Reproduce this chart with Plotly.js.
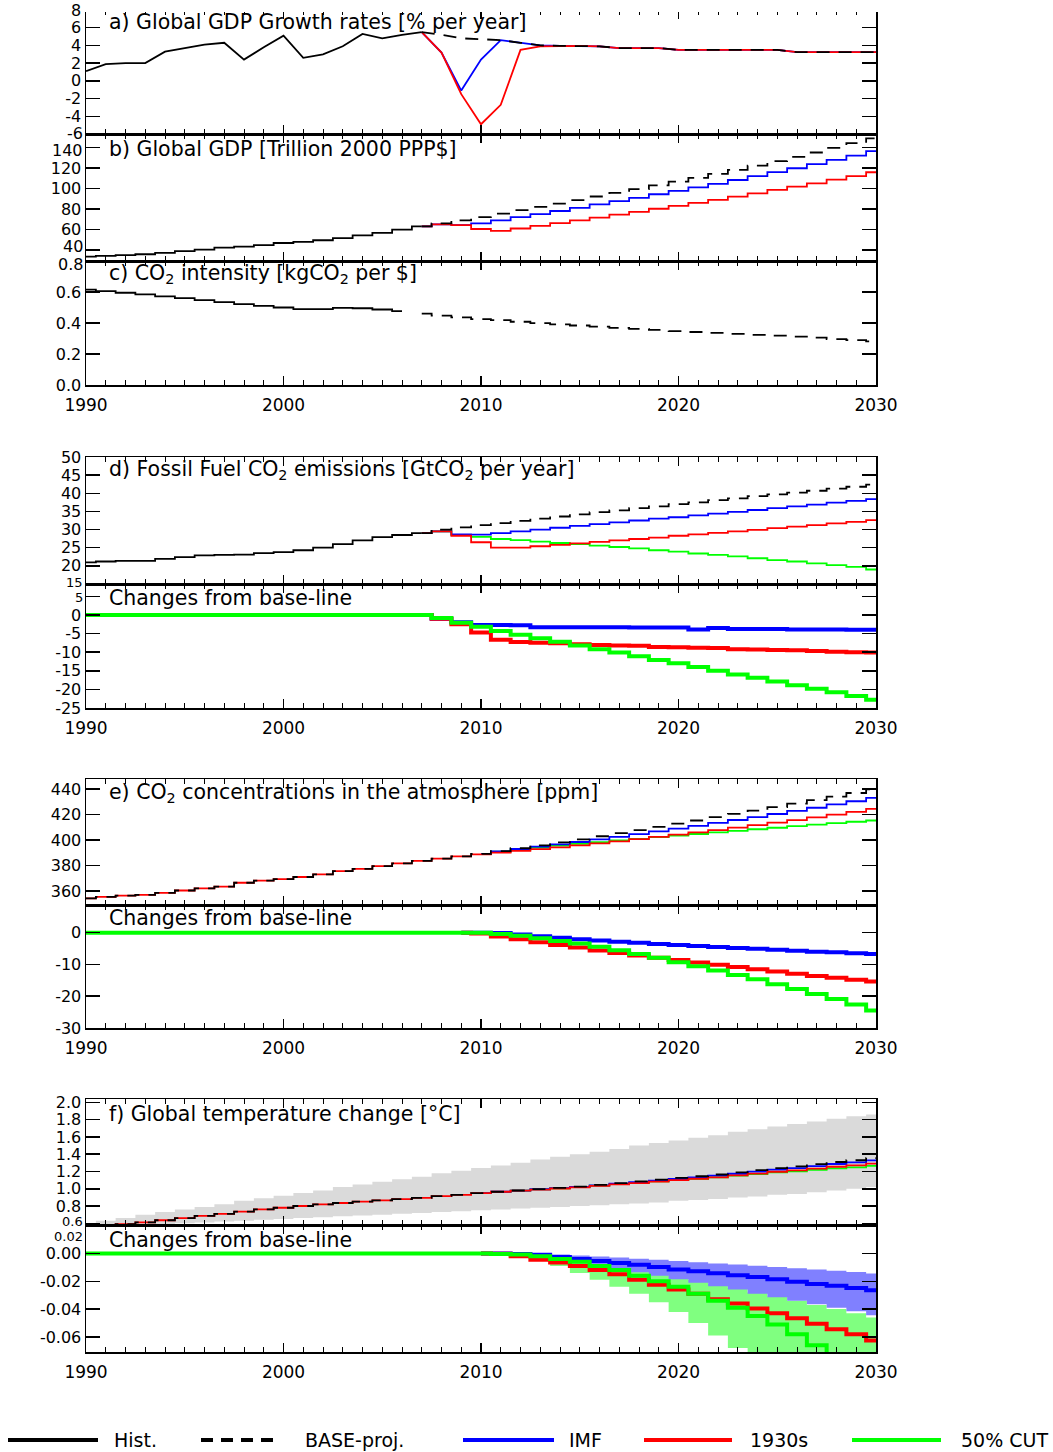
<!DOCTYPE html>
<html><head><meta charset="utf-8">
<script src="https://cdn.plot.ly/plotly-3.0.1.min.js"></script>
<style>html,body{margin:0;padding:0;background:#fff}#chart{width:1053px;height:1452px}</style>
</head><body><div id="chart"></div>
<script>
// ---------------- DATA ----------------
const YEARS = [1990,1991,1992,1993,1994,1995,1996,1997,1998,1999,2000,2001,2002,2003,2004,2005,2006,2007,2008,2009,2010,2011,2012,2013,2014,2015,2016,2017,2018,2019,2020,2021,2022,2023,2024,2025,2026,2027,2028,2029,2030];
const X_TICKS = [1990, 2000, 2010, 2020, 2030];
const X_LABELS = ['1990', '2000', '2010', '2020', '2030'];

// a) GDP growth rates [% per year]
const A_HIST = [1.1,1.9,2.0,2.0,3.3,3.7,4.1,4.3,2.4,3.8,5.1,2.6,3.0,3.9,5.3,4.8,5.2,5.5];              // 1990-2007
const A_BASE = [5.5,5.2,4.8,4.7,4.6,4.3,4.0,3.95,3.95,3.9,3.7,3.7,3.7,3.5,3.5,3.5,3.5,3.5,3.5,3.25,3.25,3.25,3.25,3.25]; // 2007-2030
const A_IMF  = [5.5,3.2,-1.1,2.4,4.6,4.3,4.0,3.95,3.95,3.9,3.7,3.7,3.7,3.5,3.5,3.5,3.5,3.5,3.5,3.25,3.25,3.25,3.25,3.25];
const A_1930 = [5.5,3.2,-1.5,-4.9,-2.7,3.5,3.9,3.95,3.95,3.9,3.7,3.7,3.7,3.5,3.5,3.5,3.5,3.5,3.5,3.25,3.25,3.25,3.25,3.25];

// b) Global GDP [Trillion 2000 PPP$]
const B_HIST = [33.5,34.2,35.0,35.8,37.2,38.8,40.4,42.2,43.3,44.8,46.8,48.0,49.5,51.5,54.2,56.8,59.8,63.0]; // 1990-2007
const B_BASE = [63.0,66.0,69.0,72.2,75.5,78.9,82.1,85.4,88.8,92.3,95.8,99.4,103.2,106.8,110.5,114.4,118.4,122.5,126.8,131.0,135.3,139.8,144.4,149.2]; // 2007-2030
const B_IMF  = [63.0,65.0,64.3,65.9,68.9,72.1,75.1,78.1,81.2,84.5,87.7,91.0,94.5,97.8,101.2,104.7,108.4,112.2,116.1,119.9,123.9,128.0,132.2,136.6];
const B_1930 = [63.0,65.0,64.2,60.5,58.7,61.0,63.5,66.2,68.9,71.7,74.5,77.3,80.3,83.1,86.0,89.0,92.1,95.3,98.7,101.9,105.2,108.7,112.3,116.0];

// c) CO2 intensity [kgCO2 per $]
const C_HIST = [0.615,0.605,0.595,0.585,0.572,0.56,0.548,0.535,0.522,0.51,0.50,0.49,0.49,0.497,0.495,0.487,0.477]; // 1990-2006
const C_BASE = [0.46,0.447,0.436,0.425,0.418,0.408,0.399,0.391,0.384,0.377,0.369,0.362,0.355,0.348,0.342,0.336,0.330,0.324,0.318,0.312,0.305,0.296,0.289,0.282]; // 2007-2030

// d) Fossil fuel CO2 emissions [GtCO2 per year]
const D_HIST = [20.95,21.2,21.4,21.4,21.9,22.4,22.9,23.0,23.1,23.5,23.8,24.3,25.0,26.0,27.0,27.9,28.5,29.0]; // 1990-2007
const D_BASE = [29.0,30.0,30.6,31.2,31.8,32.4,33.0,33.6,34.2,34.8,35.3,35.9,36.4,37.0,37.5,38.1,38.6,39.2,39.7,40.2,40.7,41.3,41.8,42.4]; // 2007-2030
const D_IMF  = [29.0,29.5,28.7,28.6,29.0,29.5,30.0,30.5,31.0,31.5,32.0,32.5,33.0,33.4,33.9,34.4,34.9,35.4,35.9,36.4,36.9,37.4,37.9,38.4];
const D_1930 = [29.0,29.5,28.3,26.5,25.0,25.0,25.4,25.8,26.2,26.6,27.0,27.4,27.8,28.3,28.7,29.1,29.5,29.9,30.4,30.8,31.2,31.7,32.1,32.6];
const D_CUT  = [29.0,29.5,28.5,28.0,27.4,27.1,26.7,26.3,26.0,25.6,25.2,24.8,24.3,23.9,23.4,23.0,22.6,22.1,21.6,21.2,20.7,20.2,19.7,19.0];
// d) changes from base-line
const D2_IMF  = [0,-1.0,-2.0,-2.7,-2.7,-2.8,-3.3,-3.3,-3.3,-3.3,-3.3,-3.4,-3.4,-3.4,-3.9,-3.5,-3.8,-3.8,-3.8,-3.9,-3.9,-3.9,-4.0,-4.0]; // 2007-2030
const D2_1930 = [0,-1.0,-2.5,-4.7,-6.7,-7.3,-7.5,-7.6,-7.9,-8.1,-8.2,-8.3,-8.6,-8.7,-8.8,-8.9,-9.2,-9.3,-9.4,-9.5,-9.7,-9.9,-10.0,-10.1];
const D2_CUT  = [0,0,0,0,0,0,0,0,0,0,0,0,0,0,0,0,0,0,-0.8,-2.1,-3.2,-4.3,-5.3,-6.3,-7.2,-8.2,-9.2,-10.1,-11.1,-12.1,-13.0,-14.0,-15.0,-16.0,-16.9,-17.9,-18.9,-19.8,-20.8,-21.8,-22.8]; // 1990-2030

// e) CO2 concentrations [ppm]
const E_BASE = [354.2,355.4,356.3,357.0,358.6,360.4,362.0,363.5,366.5,368.1,369.4,371.0,373.1,375.6,377.4,379.6,381.7,383.6,385.4,387.2,389.1,391.3,393.6,395.9,398.2,400.6,403.0,405.4,407.9,410.4,412.9,415.4,418.0,420.6,423.2,425.9,428.6,431.4,434.2,437.0,439.9]; // 1990-2030
const E_1930 = [354.2,355.4,356.3,357.0,358.6,360.4,362.0,363.5,366.5,368.1,369.4,371.0,373.1,375.6,377.4,379.6,381.7,383.6,385.4,387.2,388.8,390.1,391.5,392.9,394.3,395.9,397.4,399.0,400.7,402.5,404.3,406.0,407.9,409.8,411.7,413.7,415.7,417.8,420.0,422.2,424.5];
const E_IMF  = [389.1,391.2,393.0,394.8,396.6,398.5,400.5,402.5,404.7,406.8,409.0,411.2,413.5,415.8,418.1,420.5,422.9,425.4,428.0,430.5,433.2]; // 2010-2030
const E_CUT  = [389.1,390.9,392.6,394.1,395.6,397.1,398.4,399.7,401.0,402.3,403.6,404.8,406.1,407.3,408.5,409.7,410.9,412.1,413.3,414.4,415.4];
// e) changes from base-line
const E2_IMF  = [0,0,-0.1,-0.6,-1.1,-1.6,-2.1,-2.5,-2.9,-3.2,-3.6,-3.9,-4.2,-4.5,-4.8,-5.1,-5.4,-5.7,-6.0,-6.2,-6.5,-6.7]; // 2009-2030
const E2_1930 = [0,-0.3,-1.2,-2.1,-3.0,-3.9,-4.7,-5.6,-6.4,-7.2,-7.9,-8.6,-9.4,-10.1,-10.8,-11.5,-12.2,-12.9,-13.6,-14.2,-14.8,-15.4];
const E2_CUT  = [0,0,0,0,0,0,0,0,0,0,0,0,0,0,0,0,0,0,0,0,0,-0.4,-1.0,-1.8,-2.6,-3.4,-4.4,-5.5,-6.7,-7.9,-9.3,-10.6,-11.9,-13.3,-14.7,-16.2,-17.7,-19.3,-20.9,-22.6,-24.5]; // 1990-2030

// f) Global temperature change [°C]
const F_BASE = [0.56,0.575,0.59,0.61,0.635,0.66,0.685,0.71,0.735,0.76,0.78,0.80,0.82,0.835,0.85,0.865,0.88,0.895,0.915,0.93,0.95,0.965,0.98,0.995,1.01,1.025,1.045,1.065,1.085,1.105,1.125,1.145,1.165,1.19,1.215,1.24,1.26,1.285,1.31,1.33,1.355]; // 1990-2030
const F_1930 = [0.56,0.575,0.59,0.61,0.635,0.66,0.685,0.71,0.735,0.76,0.78,0.80,0.82,0.835,0.85,0.865,0.88,0.895,0.915,0.93,0.95,0.965,0.978,0.990,1.003,1.016,1.033,1.050,1.066,1.082,1.099,1.116,1.132,1.154,1.175,1.197,1.213,1.234,1.255,1.272,1.292];
const F_IMF  = [0.95,0.965,0.979,0.994,1.007,1.021,1.039,1.058,1.077,1.095,1.113,1.132,1.151,1.174,1.198,1.221,1.240,1.263,1.287,1.305,1.328]; // 2010-2030
const F_CUT  = [0.95,0.964,0.979,0.993,1.006,1.019,1.036,1.053,1.069,1.085,1.101,1.116,1.131,1.151,1.170,1.189,1.202,1.219,1.236,1.248,1.264];
const F_RANGE_LO = [0.55,0.56,0.57,0.58,0.59,0.60,0.61,0.62,0.63,0.64,0.65,0.66,0.67,0.68,0.69,0.70,0.71,0.72,0.73,0.74,0.75,0.76,0.77,0.78,0.79,0.80,0.81,0.82,0.83,0.84,0.86,0.87,0.88,0.90,0.91,0.93,0.94,0.96,0.98,1.00,1.02];
const F_RANGE_HI = [0.60,0.63,0.66,0.70,0.73,0.76,0.79,0.82,0.86,0.89,0.92,0.95,0.98,1.02,1.05,1.08,1.11,1.14,1.18,1.21,1.24,1.27,1.30,1.34,1.37,1.40,1.43,1.46,1.50,1.53,1.56,1.59,1.62,1.66,1.69,1.72,1.75,1.78,1.81,1.84,1.86];
// f) changes from base-line
const F2_IMF  = [0,0,-0.0005,-0.001,-0.0025,-0.004,-0.0055,-0.0068,-0.0082,-0.0098,-0.0115,-0.0128,-0.0142,-0.0156,-0.017,-0.0186,-0.0203,-0.022,-0.0233,-0.0248,-0.0265]; // 2010-2030
const F2_1930 = [0,-0.0003,-0.002,-0.0045,-0.0065,-0.009,-0.012,-0.015,-0.019,-0.0225,-0.026,-0.029,-0.033,-0.036,-0.0395,-0.043,-0.0465,-0.0505,-0.0545,-0.058,-0.0625];
const F2_CUT  = [0,0,0,0,0,0,0,0,0,0,0,0,0,0,0,0,0,0,0,0,0,-0.0005,-0.0008,-0.002,-0.004,-0.006,-0.009,-0.012,-0.016,-0.020,-0.024,-0.029,-0.034,-0.039,-0.045,-0.051,-0.058,-0.066,-0.074,-0.082,-0.091]; // 1990-2030
const F2_IMF_HI = [0,-0.0003,-0.0008,-0.0015,-0.0022,-0.003,-0.0038,-0.0046,-0.0055,-0.0064,-0.0072,-0.008,-0.0088,-0.0097,-0.0106,-0.0115,-0.0124,-0.0134,-0.0144]; // 2012-2030
const F2_IMF_LO = [-0.001,-0.002,-0.004,-0.006,-0.0085,-0.011,-0.0135,-0.016,-0.0185,-0.021,-0.0235,-0.026,-0.029,-0.0315,-0.034,-0.0365,-0.039,-0.0415,-0.0444];
const F2_CUT_HI = [0,-0.0005,-0.001,-0.002,-0.004,-0.006,-0.008,-0.0105,-0.013,-0.016,-0.019,-0.022,-0.025,-0.028,-0.031,-0.034,-0.037,-0.040,-0.043,-0.046]; // 2011-2030
const F2_CUT_LO = [-0.0005,-0.001,-0.004,-0.009,-0.014,-0.019,-0.024,-0.029,-0.035,-0.042,-0.050,-0.059,-0.068,-0.078,-0.088,-0.099,-0.11,-0.121,-0.133,-0.145];

// y tick values / labels
const Y_TICKS = [
  [-6,-4,-2,0,2,4,6,8],
  [40,60,80,100,120,140],
  [0,0.2,0.4,0.6,0.8],
  [15,20,25,30,35,40,45,50],
  [-25,-20,-15,-10,-5,0,5],
  [360,380,400,420,440],
  [-30,-20,-10,0],
  [0.6,0.8,1.0,1.2,1.4,1.6,1.8,2.0],
  [-0.06,-0.04,-0.02,0,0.02]
];
const Y_LABELS = [
  ['-6','-4','-2','0','2','4','6','8'],
  ['40','60','80','100','120','140'],
  ['0.0','0.2','0.4','0.6','0.8'],
  ['15','20','25','30','35','40','45','50'],
  ['-25','-20','-15','-10','-5','0','5'],
  ['360','380','400','420','440'],
  ['-30','-20','-10','0'],
  ['0.6','0.8','1.0','1.2','1.4','1.6','1.8','2.0'],
  ['-0.06','-0.04','-0.02','0.00','0.02']
];
const Y_RANGES = [[-6,8],[29.2,153.4],[0,0.8],[15,50],[-25,8.3],[349,448],[-30,8.7],[0.58,2.04],[-0.0708,0.0204]];

const PANEL_TITLES = [
  'a) Global GDP Growth rates [% per year]',
  'b) Global GDP [Trillion 2000 PPP$]',
  'c) CO<sub>2</sub> intensity [kgCO<sub>2</sub> per $]',
  'd) Fossil Fuel CO<sub>2</sub> emissions [GtCO<sub>2</sub> per year]',
  'Changes from base-line',
  'e) CO<sub>2</sub> concentrations in the atmosphere [ppm]',
  'Changes from base-line',
  'f) Global temperature change [°C]',
  'Changes from base-line'
];
const LEGEND_NAMES = ['Hist.', 'BASE-proj.', 'IMF', '1930s', '50% CUT'];

// ---------------- LAYOUT ----------------
const W = 1053, H = 1452;
const PX_LEFT = 86, PX_RIGHT = 876;
const PANEL_PX = [[10,134],[134,261],[261,385],[457,584],[584,708],[779,905],[905,1028],[1099,1225],[1225,1352]];
const TITLE_PX_Y = [22,149,274,470,598,793,918,1114,1240];
const LABELLED_X = [false,false,true,false,true,false,true,false,true];
// tick labels sitting on shared panel edges: nudged apart (pixel y, font size)
const EDGE_LABEL_POS = [
  {p:0, v:-6,   y:133.5,  s:16},
  {p:1, v:140,  y:150.8,  s:16},
  {p:1, v:40,   y:247,    s:16},
  {p:2, v:0.8,  y:264.5,  s:16},
  {p:3, v:15,   y:582,    s:13},
  {p:4, v:5,    y:597,    s:13},
  {p:7, v:0.6,  y:1221.5, s:13},
  {p:8, v:0.02, y:1236.5, s:13}
];

const BLACK='#000000', BLUE='#0000ff', RED='#ff0000', GREEN='#00ff00';
const FONT = 'DejaVu Sans, Arial, sans-serif';

function span(from, to){ return YEARS.filter(y => y >= from && y <= to); }

const traces = [];
function ax(p){ return p===1 ? ['x','y'] : ['x'+p,'y'+p]; }
function line(p, x, y, color, width, dash, shape){
  traces.push({type:'scatter', mode:'lines', x:x, y:y, xaxis:ax(p)[0], yaxis:ax(p)[1],
    line:{color:color, width:width, dash:dash||'solid', shape:shape||'hvh'},
    hoverinfo:'skip', showlegend:false});
}
function band(p, x, lo, hi, color){
  traces.push({type:'scatter', mode:'lines', x:x, y:lo, xaxis:ax(p)[0], yaxis:ax(p)[1],
    line:{width:0, shape:'hvh', color:color}, hoverinfo:'skip', showlegend:false});
  traces.push({type:'scatter', mode:'lines', x:x, y:hi, xaxis:ax(p)[0], yaxis:ax(p)[1],
    line:{width:0, shape:'hvh', color:color}, fill:'tonexty', fillcolor:color, hoverinfo:'skip', showlegend:false});
}
const DASH = '13px,9px';
const LW = 1.8, CW = 4;

// a
line(1, span(2007,2030), A_IMF, BLUE, LW, 'solid', 'linear');
line(1, span(2007,2030), A_1930, RED, LW, 'solid', 'linear');
line(1, span(1990,2007), A_HIST, BLACK, LW, 'solid', 'linear');
line(1, span(2007,2030), A_BASE, BLACK, LW, DASH, 'linear');
// b
line(2, span(2007,2030), B_IMF, BLUE, LW);
line(2, span(2007,2030), B_1930, RED, LW);
line(2, span(1990,2007), B_HIST, BLACK, LW);
line(2, span(2007,2030), B_BASE, BLACK, LW, DASH);
// c
line(3, span(1990,2006), C_HIST, BLACK, LW);
line(3, span(2007,2030), C_BASE, BLACK, LW, DASH);
// d
line(4, span(2007,2030), D_CUT, GREEN, LW);
line(4, span(2007,2030), D_IMF, BLUE, LW);
line(4, span(2007,2030), D_1930, RED, LW);
line(4, span(1990,2007), D_HIST, BLACK, LW);
line(4, span(2007,2030), D_BASE, BLACK, LW, DASH);
// d changes
line(5, span(2007,2030), D2_IMF, BLUE, CW);
line(5, span(2007,2030), D2_1930, RED, CW);
line(5, span(1990,2030), D2_CUT, GREEN, CW);
// e
line(6, span(2010,2030), E_CUT, GREEN, LW);
line(6, span(2010,2030), E_IMF, BLUE, LW);
line(6, span(1990,2030), E_1930, RED, LW);
line(6, span(1990,2030), E_BASE, BLACK, LW, DASH);
// e changes
line(7, span(2009,2030), E2_IMF, BLUE, CW);
line(7, span(2009,2030), E2_1930, RED, CW);
line(7, span(1990,2030), E2_CUT, GREEN, CW);
// f
band(8, span(1990,2030), F_RANGE_LO, F_RANGE_HI, '#dadada');
line(8, span(2010,2030), F_CUT, GREEN, LW);
line(8, span(2010,2030), F_IMF, BLUE, LW);
line(8, span(1990,2030), F_1930, RED, LW);
line(8, span(1990,2030), F_BASE, BLACK, LW, DASH);
// f changes
band(9, span(2011,2030), F2_CUT_LO, F2_CUT_HI, '#80ff80');
band(9, span(2012,2030), F2_IMF_LO, F2_IMF_HI, '#8080ff');
line(9, span(2010,2030), F2_IMF, BLUE, CW);
line(9, span(2010,2030), F2_1930, RED, CW);
line(9, span(1990,2030), F2_CUT, GREEN, CW);

const layout = {
  width: W, height: H, margin:{l:0,r:0,t:0,b:0},
  paper_bgcolor:'#ffffff', plot_bgcolor:'#ffffff',
  showlegend:false, font:{family:FONT, color:'#000', size:16},
  annotations:[], shapes:[]
};
for (let i = 0; i < 9; i++){
  const p = i+1;
  const xk = p===1 ? 'xaxis' : 'xaxis'+p;
  const yk = p===1 ? 'yaxis' : 'yaxis'+p;
  const [top, bot] = PANEL_PX[i];
  // labels on shared edges are drawn separately (see EDGE_LABEL_POS)
  const tt = Y_LABELS[i].map((lab, k) =>
    EDGE_LABEL_POS.some(e => e.p === i && e.v === Y_TICKS[i][k]) ? '' : lab);
  layout[xk] = {
    domain:[PX_LEFT/W, PX_RIGHT/W], anchor: ax(p)[1],
    range:[1990,2030], tickmode:'array', tickvals:X_TICKS, ticktext:X_LABELS,
    showticklabels: LABELLED_X[i], ticks:'inside', ticklen:9, tickwidth:1.5, tickcolor:'#000',
    minor:{ticks:'inside', ticklen:5, dtick:1, tick0:1990, tickwidth:1, tickcolor:'#000', showgrid:false},
    showline:true, linecolor:'#000', linewidth:1.5, mirror:'allticks',
    showgrid:false, zeroline:false, fixedrange:true,
    tickfont:{family:FONT, size:17, color:'#000'}, ticklabelstandoff:4
  };
  layout[yk] = {
    domain:[1-bot/H, 1-top/H], anchor: ax(p)[0],
    range:Y_RANGES[i], tickmode:'array', tickvals:Y_TICKS[i], ticktext:tt,
    ticks:'inside', ticklen:14, tickwidth:1.5, tickcolor:'#000',
    showline:true, linecolor:'#000', linewidth:1.5, mirror:'allticks',
    showgrid:false, zeroline:false, fixedrange:true,
    tickfont:{family:FONT, size:16, color:'#000'}
  };
  layout.annotations.push({
    xref:'paper', yref:'paper', x:107/W, y:1-TITLE_PX_Y[i]/H, xanchor:'left', yanchor:'middle',
    text:PANEL_TITLES[i], showarrow:false, font:{family:FONT, size:20.5, color:'#000'}
  });
}
EDGE_LABEL_POS.forEach(e => {
  const k = Y_TICKS[e.p].indexOf(e.v);
  layout.annotations.push({xref:'paper', yref:'paper', x:84/W, y:1-e.y/H, xanchor:'right', yanchor:'middle',
    text:Y_LABELS[e.p][k], showarrow:false, borderpad:0, font:{family:FONT, size:e.s, color:'#000'}});
});
// the top edge of panel a is cropped away in the reference: only tick ends show
layout.shapes.push({type:'rect', xref:'paper', yref:'paper', layer:'above',
  x0:(PX_LEFT-1)/W, x1:(PX_RIGHT+2)/W, y0:1-12/H, y1:1, line:{width:0}, fillcolor:'#ffffff'});

// legend (drawn manually, IDL style)
const LEG_Y = 1440;
const LEG_ITEMS = [
  {x0:8, x1:98, tx:112, color:BLACK, dash:'solid'},
  {x0:201, x1:281, tx:303, color:BLACK, dash:'12px,8px'},
  {x0:463, x1:554, tx:567, color:BLUE, dash:'solid'},
  {x0:644, x1:732, tx:748, color:RED, dash:'solid'},
  {x0:852, x1:941, tx:959, color:GREEN, dash:'solid'}
];
LEG_ITEMS.forEach((it, k) => {
  layout.shapes.push({type:'line', xref:'paper', yref:'paper', x0:it.x0/W, x1:it.x1/W, y0:1-LEG_Y/H, y1:1-LEG_Y/H,
    line:{color:it.color, width:4, dash:it.dash}});
  layout.annotations.push({xref:'paper', yref:'paper', x:it.tx/W, y:1-LEG_Y/H, xanchor:'left', yanchor:'middle',
    text:LEGEND_NAMES[k], showarrow:false, font:{family:FONT, size:19, color:'#000'}});
});

Plotly.newPlot('chart', traces, layout, {staticPlot:true, displayModeBar:false});
</script></body></html>
